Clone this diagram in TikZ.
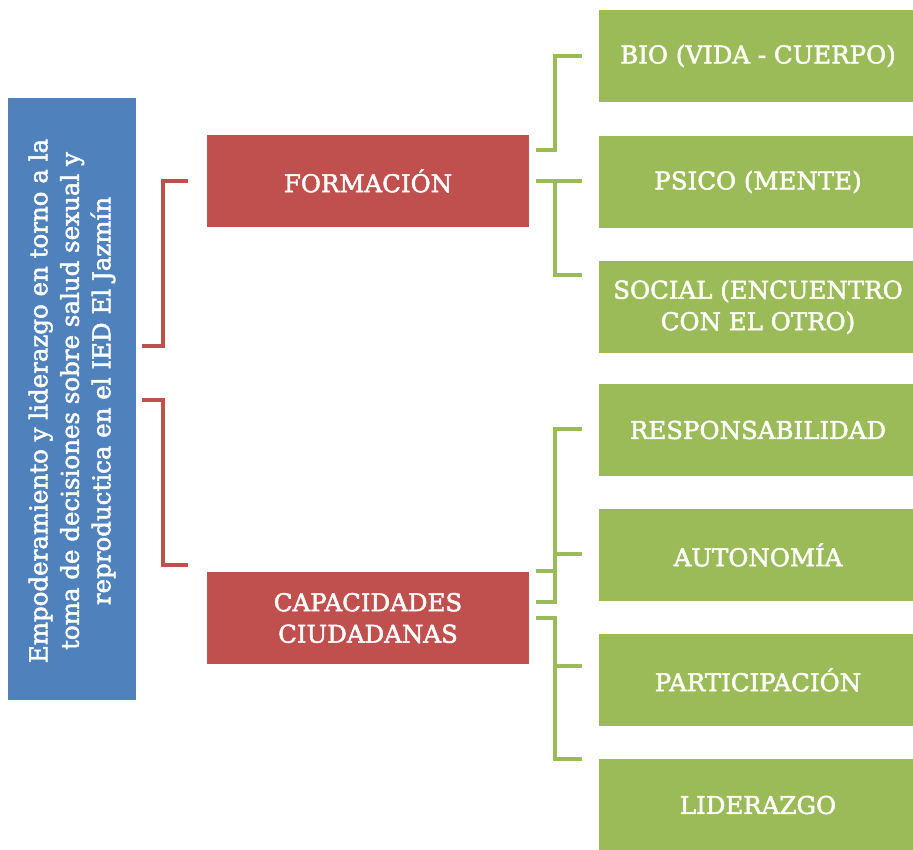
\documentclass[tikz,border=0pt]{standalone}
\usepackage{fontspec}
\setmainfont{DejaVu Serif}[FakeBold=2]
\definecolor{cblue}{HTML}{4F81BD}
\definecolor{cred}{HTML}{C0504D}
\definecolor{cgreen}{HTML}{9BBB59}
\begin{document}
\begin{tikzpicture}[x=1pt,y=-1pt,
  boxtxt/.style={text=white,font=\fontsize{24.5}{31.5}\selectfont,align=center,inner sep=0pt},
  bluebox/.style={boxtxt,fill=cblue,minimum width=128pt,minimum height=602pt},
  redbox/.style={boxtxt,fill=cred,minimum width=322pt,minimum height=92pt},
  greenbox/.style={boxtxt,fill=cgreen,minimum width=318pt,minimum height=92pt},
  redline/.style={draw=cred,line width=4pt,line join=miter},
  greenline/.style={draw=cgreen,line width=4pt,line join=miter}]
\useasboundingbox (0,0) rectangle (913,849);
\fill[white] (0,0) rectangle (913,849);
% blue root
\node[bluebox] (root) at (72,399) {};
\node[boxtxt,rotate=90] (roottxt) at (72,401) {Empoderamiento y liderazgo en torno a la\\toma de decisiones sobre salud sexual y\\reproductica en el IED El Jazmín};
% red
\node[redbox] (form) at (368,181) {FORMACIÓN};
\node[redbox] (cap) at (368,618) {CAPACIDADES\\CIUDADANAS};
% green
\node[greenbox] (bio) at (758,56) {BIO (VIDA - CUERPO)};
\node[greenbox] (psico) at (758,182) {PSICO (MENTE)};
\node[greenbox] (social) at (758,307) {SOCIAL (ENCUENTRO\\CON EL OTRO)};
\node[greenbox] (resp) at (758,430) {RESPONSABILIDAD};
\node[greenbox] (auto) at (758,555) {AUTONOMÍA};
\node[greenbox] (part) at (758,680) {PARTICIPACIÓN};
\node[greenbox] (lid) at (758,805) {LIDERAZGO};
% connector end coordinates
\coordinate (r1a) at (root.east |- 0,346);
\coordinate (r1b) at ([xshift=-19pt]form.west);
\coordinate (r2a) at (root.east |- 0,400);
\coordinate (r2b) at ([xshift=-19pt]cap.west |- 0,565);
\draw[redline] ([xshift=6pt]r1a) -- (163,346) |- (r1b);
\draw[redline] ([xshift=6pt]r2a) -- (163,400) |- (r2b);
% green connectors from FORMACIÓN
\coordinate (f1) at ([xshift=7pt]form.east |- 0,150);
\coordinate (f2) at ([xshift=7pt]form.east |- 0,181);
\coordinate (g1) at ([xshift=-17pt]bio.west);
\coordinate (g2) at ([xshift=-17pt]psico.west |- 0,181);
\coordinate (g3) at ([xshift=-17pt]social.west |- 0,275);
\draw[greenline] (f1) -- (555,150) |- (g1);
\draw[greenline] (f2) -- (g2);
\draw[greenline] (555,181) |- (g3);
% green connectors from CAPACIDADES
\coordinate (c1) at ([xshift=7pt]cap.east |- 0,571);
\coordinate (c2) at ([xshift=7pt]cap.east |- 0,602);
\coordinate (c3) at ([xshift=7pt]cap.east |- 0,618);
\coordinate (g4) at ([xshift=-17pt]resp.west |- 0,429);
\coordinate (g5) at ([xshift=-17pt]auto.west |- 0,554);
\coordinate (g6) at ([xshift=-17pt]part.west |- 0,666);
\coordinate (g7) at ([xshift=-17pt]lid.west |- 0,759);
\draw[greenline] (c2) -- (555,602) |- (g4);
\draw[greenline] (c1) -- (555,571);
\draw[greenline] (555,554) -- (g5);
\draw[greenline] (c3) -- (555,618) |- (g7);
\draw[greenline] (555,666) -- (g6);
\end{tikzpicture}
\end{document}
